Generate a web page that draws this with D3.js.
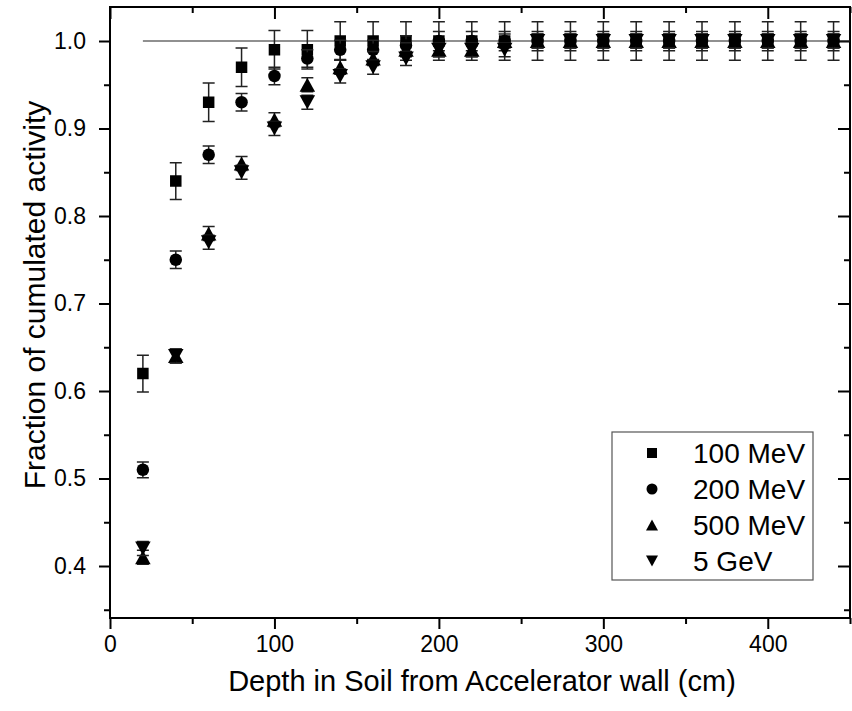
<!DOCTYPE html>
<html>
<head>
<meta charset="utf-8">
<script src="https://cdn.jsdelivr.net/npm/d3@7"></script>
<style>
  body { margin: 0; background: #fff; }
  svg { display: block; }
  text { font-family: "Liberation Sans", Arial, Helvetica, sans-serif; fill: #000; }
</style>
</head>
<body>
<svg id="chart" width="852" height="711"></svg>
<script>
// depth in soil (cm)
var depth = [20, 40, 60, 80, 100, 120, 140, 160, 180, 200, 220,
             240, 260, 280, 300, 320, 340, 360, 380, 400, 420, 440];

// fraction of cumulated activity, one array per beam energy
var mev100 = [0.62, 0.84, 0.93, 0.97, 0.99, 0.99, 1.0, 1.0, 1.0, 1.0, 1.0,
              1.0, 1.0, 1.0, 1.0, 1.0, 1.0, 1.0, 1.0, 1.0, 1.0, 1.0];
var mev200 = [0.51, 0.75, 0.87, 0.93, 0.96, 0.98, 0.99, 0.99, 0.995, 1.0, 1.0,
              1.0, 1.0, 1.0, 1.0, 1.0, 1.0, 1.0, 1.0, 1.0, 1.0, 1.0];
var mev500 = [0.41, 0.64, 0.78, 0.86, 0.91, 0.95, 0.97, 0.98, 0.99, 0.99, 0.99,
              1.0, 1.0, 1.0, 1.0, 1.0, 1.0, 1.0, 1.0, 1.0, 1.0, 1.0];
var gev5   = [0.42, 0.64, 0.77, 0.85, 0.90, 0.93, 0.96, 0.97, 0.98, 0.99, 0.99,
              0.99, 1.0, 1.0, 1.0, 1.0, 1.0, 1.0, 1.0, 1.0, 1.0, 1.0];

// error bar half-widths
var err100 = [0.021, 0.021, 0.022, 0.022, 0.022, 0.022, 0.022, 0.022, 0.022, 0.022, 0.022,
              0.022, 0.022, 0.022, 0.022, 0.022, 0.022, 0.022, 0.022, 0.022, 0.022, 0.022];
var err200 = [0.009, 0.01, 0.01, 0.01, 0.01, 0.01, 0.011, 0.011, 0.011, 0.011, 0.011,
              0.011, 0.011, 0.011, 0.011, 0.011, 0.011, 0.011, 0.011, 0.011, 0.011, 0.011];
var err500 = [0.008, 0.008, 0.008, 0.008, 0.008, 0.008, 0.008, 0.008, 0.008, 0.008, 0.008,
              0.008, 0.008, 0.008, 0.008, 0.008, 0.008, 0.008, 0.008, 0.008, 0.008, 0.008];
var err5g  = [0.008, 0.008, 0.008, 0.008, 0.008, 0.008, 0.008, 0.008, 0.008, 0.008, 0.008,
              0.008, 0.008, 0.008, 0.008, 0.008, 0.008, 0.008, 0.008, 0.008, 0.008, 0.008];

var seriesNames = ['100 MeV', '200 MeV', '500 MeV', '5 GeV'];
var seriesShapes = ['square', 'circle', 'up', 'down'];

var xTicks = [0, 100, 200, 300, 400];
var xMinor = [50, 150, 250, 350, 450];
var yTicks = [0.4, 0.5, 0.6, 0.7, 0.8, 0.9, 1.0];
var yMinor = [0.35, 0.45, 0.55, 0.65, 0.75, 0.85, 0.95];

var reference = 1.0;  // horizontal guide line

// note: "top" is a window property, so use other names
var padL = 110, padR = 850, padT = 7, padB = 618;

var x = d3.scaleLinear().domain([0, 450]).range([padL, padR]);
var y = d3.scaleLinear().domain([0.34, 1.04]).range([padB + 0.5, padT - 1]);

var svg = d3.select('#chart');

function markerPath(shape){
  if (shape == 'square') return 'M-5.75,-5.75H5.75V5.75H-5.75Z';
  if (shape == 'circle') return 'M-6.25,0A6.25,6.25 0 1,0 6.25,0A6.25,6.25 0 1,0 -6.25,0Z';
  if (shape == 'up') return 'M0,-7L7.75,7L-7.75,7Z';
  return 'M0,7L7.75,-7L-7.75,-7Z';
}

function legendPath(shape){
  if (shape == 'square') return 'M-5,-5H5V5H-5Z';
  if (shape == 'circle') return 'M-5.5,0A5.5,5.5 0 1,0 5.5,0A5.5,5.5 0 1,0 -5.5,0Z';
  if (shape == 'up') return 'M0,-5.5L6,5.5L-6,5.5Z';
  return 'M0,5.5L6,-5.5L-6,-5.5Z';
}

// axes: bottom/left ticks outward, top/right inward
function styleAxis(g){
  g.select('.domain').remove();
  g.selectAll('line').attr('stroke', '#000').attr('stroke-width', 2);
  g.selectAll('text').style('font-size', '23px');
}

svg.append('g')
  .attr('transform', 'translate(0,' + padB + ')')
  .call(d3.axisBottom(x).tickValues(xTicks).tickSize(11).tickPadding(7)
          .tickFormat(d3.format('d')))
  .call(styleAxis);
svg.append('g')
  .attr('transform', 'translate(0,' + padB + ')')
  .call(d3.axisBottom(x).tickValues(xMinor).tickSize(6).tickFormat(''))
  .call(styleAxis);
svg.append('g')
  .attr('transform', 'translate(0,' + padT + ')')
  .call(d3.axisBottom(x).tickValues(xTicks).tickSize(12).tickFormat(''))
  .call(styleAxis);
svg.append('g')
  .attr('transform', 'translate(0,' + padT + ')')
  .call(d3.axisBottom(x).tickValues(xMinor).tickSize(6).tickFormat(''))
  .call(styleAxis);

svg.append('g')
  .attr('transform', 'translate(' + padL + ',0)')
  .call(d3.axisLeft(y).tickValues(yTicks).tickSize(11).tickPadding(13)
          .tickFormat(d3.format('.1f')))
  .call(styleAxis);
svg.append('g')
  .attr('transform', 'translate(' + padL + ',0)')
  .call(d3.axisLeft(y).tickValues(yMinor).tickSize(6).tickFormat(''))
  .call(styleAxis);
svg.append('g')
  .attr('transform', 'translate(' + padR + ',0)')
  .call(d3.axisLeft(y).tickValues(yTicks).tickSize(12).tickFormat(''))
  .call(styleAxis);
svg.append('g')
  .attr('transform', 'translate(' + padR + ',0)')
  .call(d3.axisLeft(y).tickValues(yMinor).tickSize(6).tickFormat(''))
  .call(styleAxis);

svg.append('rect')
  .attr('x', padL).attr('y', padT)
  .attr('width', padR - padL).attr('height', padB - padT)
  .attr('fill', 'none').attr('stroke', '#000').attr('stroke-width', 2);

// guide line at 1.0
svg.append('line')
  .attr('x1', x(20)).attr('x2', x(450))
  .attr('y1', y(reference)).attr('y2', y(reference))
  .attr('stroke', '#222').attr('stroke-width', 1.2);

var allValues = [mev100, mev200, mev500, gev5];
var allErrors = [err100, err200, err500, err5g];

allValues.forEach(function(vals, s){
  var pts = depth.map(function(d, i){
    return {x: d, y: vals[i], e: allErrors[s][i]};
  });
  var g = svg.append('g').attr('class', 'series s' + s);

  g.selectAll('path.err')
    .data(pts)
    .enter()
    .append('path')
    .attr('class', 'err')
    .attr('d', function(d){
      var cx = x(d.x), y0 = y(d.y - d.e), y1 = y(d.y + d.e);
      return 'M' + cx + ',' + y0 + 'V' + y1 +
             'M' + (cx - 6) + ',' + y0 + 'H' + (cx + 6) +
             'M' + (cx - 6) + ',' + y1 + 'H' + (cx + 6);
    })
    .attr('fill', 'none')
    .attr('stroke', '#222')
    .attr('stroke-width', 1.5);

  g.selectAll('path.mark')
    .data(pts)
    .enter()
    .append('path')
    .attr('class', 'mark')
    .attr('transform', function(d){ return 'translate(' + x(d.x) + ',' + y(d.y) + ')'; })
    .attr('d', markerPath(seriesShapes[s]))
    .attr('fill', '#000');
});

// legend
var legend = svg.append('g').attr('class', 'legend');
legend.append('rect')
  .attr('x', 612).attr('y', 432)
  .attr('width', 201).attr('height', 148)
  .attr('fill', '#fff').attr('stroke', '#555').attr('stroke-width', 1.2);

var item = legend.selectAll('g.item')
  .data(seriesNames)
  .enter()
  .append('g')
  .attr('class', 'item')
  .attr('transform', function(d, i){ return 'translate(0,' + (453 + i * 36) + ')'; });
item.append('path')
  .attr('transform', 'translate(652,0)')
  .attr('d', function(d, i){ return legendPath(seriesShapes[i]); })
  .attr('fill', '#000');
item.append('text')
  .attr('x', 693)
  .attr('y', 10)
  .style('font-size', '28px')
  .text(function(d){ return d; });

// axis titles
svg.append('text')
  .attr('x', (padL + padR) / 2 + 2)
  .attr('y', 691)
  .attr('text-anchor', 'middle')
  .style('font-size', '29px')
  .text('Depth in Soil from Accelerator wall (cm)');

svg.append('text')
  .attr('transform', 'translate(45,295) rotate(-90)')
  .attr('text-anchor', 'middle')
  .style('font-size', '30px')
  .text('Fraction of cumulated activity');
</script>
</body>
</html>
